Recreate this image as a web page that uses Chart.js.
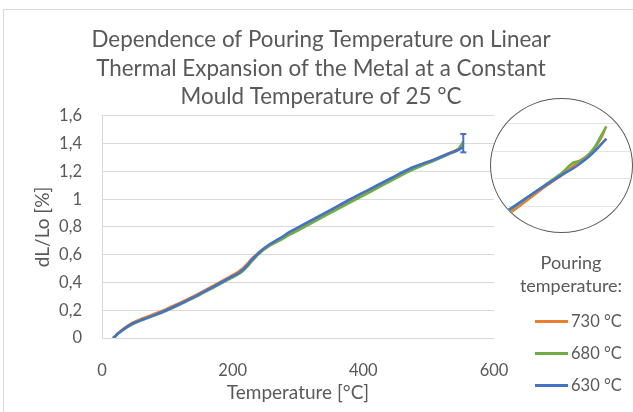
<!DOCTYPE html>
<html>
<head>
<meta charset="utf-8">
<script src="https://cdn.jsdelivr.net/npm/chart.js@4.4.0/dist/chart.umd.min.js"></script>
<style>
    body { margin: 0; background: #fff; font-family: Lato, "Open Sans", sans-serif; color: #595959; }
    #wrap { position: relative; width: 633px; height: 412px; overflow: hidden; }
    #frame { position: absolute; left: 3px; top: 9px; width: 700px; height: 500px; border: 1px solid #d9d9d9; }
    #mainBox { position: absolute; left: 0; top: 0; width: 633px; height: 412px; }
    #insetBox { position: absolute; left: 490px; top: 98px; width: 143px; height: 135px; box-sizing: border-box;
        border: 1px solid #595959; border-radius: 50%; overflow: hidden; background: #fff; }
    #legendTitle { position: absolute; left: 510px; top: 251px; width: 122px; text-align: center; font-size: 18px; line-height: 23px; }
    #legend { position: absolute; left: 535px; top: 305px; }
    .legend-item { display: flex; align-items: center; height: 32px; font-size: 16.5px; }
    .legend-line { display: inline-block; width: 33px; height: 3px; margin-right: 3px; }
</style>
</head>
<body>
<div id="wrap">
    <div id="frame"></div>
    <div id="mainBox"><canvas id="mainChart"></canvas></div>
    <div id="insetBox"><canvas id="insetChart"></canvas></div>
    <div id="legendTitle">Pouring<br>temperature:</div>
    <div id="legend"></div>
</div>
<script>
    // main curves
    var temps = [17, 20, 24, 28, 33, 40, 48, 63, 84, 100, 120, 145, 170, 196, 208, 216, 223, 229, 236, 242, 255, 272, 288, 303, 330, 355, 380, 410, 440, 471, 490, 507, 533, 545, 553];
    var exp730 = [0, 0.013, 0.032, 0.048, 0.067, 0.09, 0.112, 0.142, 0.18, 0.212, 0.254, 0.312, 0.375, 0.443, 0.475, 0.505, 0.538, 0.57, 0.6, 0.625, 0.668, 0.712, 0.757, 0.794, 0.862, 0.925, 0.99, 1.064, 1.138, 1.214, 1.252, 1.283, 1.335, 1.36, 1.39];
    var exp680 = [0, 0.011, 0.028, 0.043, 0.06, 0.082, 0.103, 0.132, 0.169, 0.2, 0.243, 0.3, 0.362, 0.428, 0.458, 0.485, 0.518, 0.552, 0.587, 0.615, 0.66, 0.703, 0.746, 0.783, 0.852, 0.915, 0.978, 1.052, 1.127, 1.203, 1.243, 1.275, 1.33, 1.36, 1.415];
    var exp630 = [0, 0.012, 0.03, 0.045, 0.063, 0.085, 0.106, 0.135, 0.172, 0.204, 0.247, 0.305, 0.368, 0.435, 0.465, 0.493, 0.527, 0.562, 0.595, 0.622, 0.67, 0.718, 0.766, 0.804, 0.872, 0.936, 1.0, 1.073, 1.146, 1.22, 1.255, 1.283, 1.333, 1.355, 1.376];

    var seriesLabels = ['730 °C', '680 °C', '630 °C'];
    var seriesColors = ['#ED7D31', '#70AD47', '#4472C4'];

    // error bar at the end of the 630 °C curve
    var errTemp = 553;
    var errLow = 1.338;
    var errHigh = 1.47;

    var xTicks = [0, 200, 400, 600];
    var yTicks = [0, 0.2, 0.4, 0.6, 0.8, 1, 1.2, 1.4, 1.6];
    var yTickLabels = ['0', '0,2', '0,4', '0,6', '0,8', '1', '1,2', '1,4', '1,6'];

    var titleLines = ['Dependence of Pouring Temperature on Linear', 'Thermal Expansion of the Metal at a Constant', 'Mould Temperature of 25 °C'];

    // zoomed detail in the circle
    var inset730T = [505, 508.4, 523.1, 530.2, 536.9, 542.8, 547.0, 548.3];
    var inset730V = [1.233, 1.239, 1.286, 1.307, 1.330, 1.348, 1.375, 1.388];
    var inset680T = [505, 508.0, 523.1, 530.2, 534.8, 539.0, 544.1, 547.0, 549.1];
    var inset680V = [1.236, 1.243, 1.289, 1.311, 1.329, 1.334, 1.357, 1.379, 1.395];
    var inset630T = [505, 508.0, 515.9, 523.1, 530.2, 535.7, 541.1, 545.3, 549.1];
    var inset630V = [1.237, 1.245, 1.268, 1.288, 1.307, 1.321, 1.338, 1.355, 1.373];
    var insetGrid = [1.25, 1.3, 1.35, 1.4];

    Chart.defaults.font.family = 'Lato, "Open Sans", sans-serif';
    Chart.defaults.color = '#595959';

    function toPoints(xs, ys) {
        var pts = [];
        for (var i = 0; i < xs.length; i++) {
            pts.push({ x: xs[i], y: ys[i] });
        }
        return pts;
    }

    var mainSeries = [exp730, exp680, exp630];
    var mainDatasets = [];
    for (var i = 0; i < mainSeries.length; i++) {
        mainDatasets.push({
            label: seriesLabels[i],
            data: toPoints(temps, mainSeries[i]),
            borderColor: seriesColors[i],
            backgroundColor: seriesColors[i],
            borderWidth: 2.6,
            pointRadius: 0,
            cubicInterpolationMode: 'monotone',
            order: 3 - i
        });
    }
    mainDatasets.push({
        label: 'error',
        data: [{ x: errTemp, y: errLow }, { x: errTemp, y: errHigh }],
        borderColor: seriesColors[2],
        backgroundColor: seriesColors[2],
        borderWidth: 2,
        pointStyle: 'line',
        pointRadius: 3,
        pointBorderWidth: 2,
        order: 0
    });

    new Chart(document.getElementById('mainChart').getContext('2d'), {
        type: 'line',
        data: { datasets: mainDatasets },
        options: {
            responsive: true,
            maintainAspectRatio: false,
            animation: false,
            layout: { padding: { left: 9, right: 0, top: 0, bottom: 0 } },
            plugins: {
                legend: { display: false },
                tooltip: { enabled: false },
                title: {
                    display: true,
                    text: titleLines,
                    color: '#595959',
                    font: { size: 22.4, weight: 'normal', lineHeight: 1.272 },
                    padding: { top: 26, bottom: 4.5 }
                }
            },
            scales: {
                x: {
                    type: 'linear',
                    min: 0,
                    max: 600,
                    afterBuildTicks: function (s) { s.ticks = xTicks.map(function (v) { return { value: v }; }); },
                    afterFit: function (s) { s.height = 74; },
                    grid: { display: false },
                    border: { display: false },
                    ticks: { padding: 15, font: { size: 16.5 }, maxRotation: 0 },
                    title: { display: true, text: 'Temperature [°C]', font: { size: 19 }, padding: { top: 0, bottom: 8 } }
                },
                y: {
                    min: 0,
                    max: 1.6,
                    afterBuildTicks: function (s) { s.ticks = yTicks.map(function (v) { return { value: v }; }); },
                    afterFit: function (s) { s.width = 93; },
                    grid: { color: '#d9d9d9', drawTicks: false },
                    border: { display: true, color: '#d9d9d9' },
                    ticks: {
                        padding: 20,
                        font: { size: 16.5 },
                        callback: function (value, index) { return yTickLabels[index]; }
                    },
                    title: { display: true, text: 'dL/Lo [%]', font: { size: 19 }, padding: { top: 22, bottom: 0 } }
                },
                yRight: {
                    position: 'right',
                    display: true,
                    grid: { display: false },
                    border: { display: false },
                    ticks: { display: false },
                    afterFit: function (s) { s.width = 139; }
                }
            }
        }
    });

    new Chart(document.getElementById('insetChart').getContext('2d'), {
        type: 'line',
        data: {
            datasets: [
                { label: seriesLabels[0], data: toPoints(inset730T, inset730V), borderColor: seriesColors[0], order: 3 },
                { label: seriesLabels[1], data: toPoints(inset680T, inset680V), borderColor: seriesColors[1], order: 2 },
                { label: seriesLabels[2], data: toPoints(inset630T, inset630V), borderColor: seriesColors[2], order: 1 }
            ]
        },
        options: {
            responsive: true,
            maintainAspectRatio: false,
            animation: false,
            layout: { padding: 0 },
            elements: { line: { borderWidth: 2.6, tension: 0.2 }, point: { radius: 0 } },
            plugins: { legend: { display: false }, tooltip: { enabled: false } },
            scales: {
                x: { type: 'linear', min: 500, max: 560, display: false },
                y: {
                    min: 1.2036,
                    max: 1.4446,
                    afterBuildTicks: function (s) { s.ticks = insetGrid.map(function (v) { return { value: v }; }); },
                    afterFit: function (s) { s.width = 0; },
                    grid: { color: '#e4e4e4', drawTicks: false },
                    border: { display: false },
                    ticks: { display: false }
                }
            }
        }
    });

    // legend built from the series
    var legendDiv = document.getElementById('legend');
    for (var j = 0; j < seriesLabels.length; j++) {
        var item = document.createElement('div');
        item.className = 'legend-item';
        item.innerHTML = '<span class="legend-line" style="background:' + seriesColors[j] + '"></span>' + seriesLabels[j];
        legendDiv.appendChild(item);
    }
</script>
</body>
</html>
